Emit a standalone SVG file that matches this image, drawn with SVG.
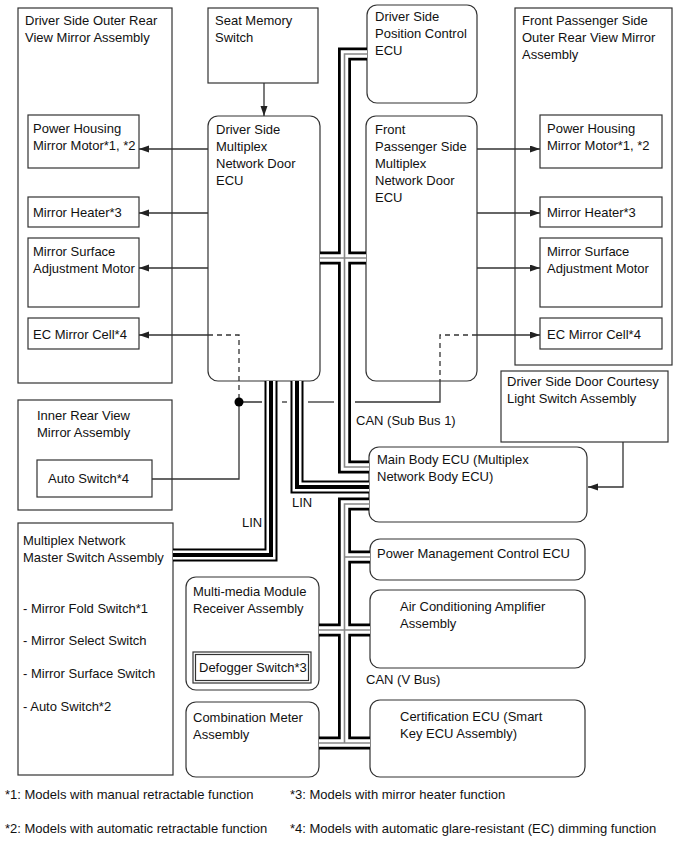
<svg xmlns="http://www.w3.org/2000/svg" width="689" height="853" viewBox="0 0 689 853">
<defs>
<marker id="ah" markerUnits="userSpaceOnUse" markerWidth="10" markerHeight="8" refX="10" refY="3.5" orient="auto">
<path d="M0,0 L10,3.5 L0,7 z" fill="#222"/>
</marker>
<style>
text{font-family:"Liberation Sans",Arial,sans-serif;font-size:13px;fill:#111}
.box{fill:#fff;stroke:#333;stroke-width:1.2}
.frame{fill:none;stroke:#333;stroke-width:1.2}
.ln{fill:none;stroke:#333;stroke-width:1.3}
.arr{fill:none;stroke:#333;stroke-width:1.3;marker-end:url(#ah)}
.dash{fill:none;stroke:#333;stroke-width:1.3;stroke-dasharray:5,4}
.bo{fill:none;stroke:#000;stroke-width:13;stroke-linejoin:miter}
.bw{fill:none;stroke:#fff;stroke-width:7.5;stroke-linejoin:miter}
.bg{fill:none;stroke:#888;stroke-width:1.6;stroke-linejoin:miter}
.lw{fill:none;stroke:#fff;stroke-width:9;stroke-linejoin:miter}
.lc{fill:none;stroke:#000;stroke-width:4;stroke-linejoin:miter}
</style>
</defs>
<rect width="689" height="853" fill="#fff"/>

<g id="driver-outer-mirror">
<rect class="frame" x="18" y="8" width="154" height="375"/>
<text x="25" y="25">Driver Side Outer Rear</text>
<text x="25" y="42">View Mirror Assembly</text>
</g>
<g id="l-power-housing">
<rect class="box" x="28" y="115" width="111" height="53"/>
<text x="33" y="133">Power Housing</text>
<text x="33" y="150">Mirror Motor*1, *2</text>
</g>
<g id="l-mirror-heater">
<rect class="box" x="28" y="197" width="111" height="30"/>
<text x="33" y="217">Mirror Heater*3</text>
</g>
<g id="l-mirror-surface">
<rect class="box" x="28" y="238" width="111" height="69"/>
<text x="33" y="256">Mirror Surface</text>
<text x="33" y="273">Adjustment Motor</text>
</g>
<g id="l-ec-cell">
<rect class="box" x="28" y="318" width="111" height="31"/>
<text x="33" y="339">EC Mirror Cell*4</text>
</g>
<g id="seat-memory">
<rect class="box" x="208" y="8" width="110" height="75"/>
<text x="215" y="25">Seat Memory</text>
<text x="215" y="42">Switch</text>
</g>
<g id="driver-door-ecu">
<rect class="box" x="208" y="116" width="112" height="265" rx="10"/>
<text x="216" y="134">Driver Side</text>
<text x="216" y="151">Multiplex</text>
<text x="216" y="168">Network Door</text>
<text x="216" y="185">ECU</text>
</g>
<g id="position-ecu">
<rect class="box" x="367" y="5" width="110" height="98" rx="10"/>
<text x="375" y="21">Driver Side</text>
<text x="375" y="38">Position Control</text>
<text x="375" y="55">ECU</text>
</g>
<g id="passenger-door-ecu">
<rect class="box" x="366" y="116" width="111" height="265" rx="10"/>
<text x="375" y="134">Front</text>
<text x="375" y="151">Passenger Side</text>
<text x="375" y="168">Multiplex</text>
<text x="375" y="185">Network Door</text>
<text x="375" y="202">ECU</text>
</g>
<g id="passenger-outer-mirror">
<rect class="frame" x="515" y="8" width="157" height="357"/>
<text x="522" y="25">Front Passenger Side</text>
<text x="522" y="42">Outer Rear View Mirror</text>
<text x="522" y="59">Assembly</text>
</g>
<g id="r-power-housing">
<rect class="box" x="540" y="115" width="122" height="53"/>
<text x="547" y="133">Power Housing</text>
<text x="547" y="150">Mirror Motor*1, *2</text>
</g>
<g id="r-mirror-heater">
<rect class="box" x="540" y="197" width="122" height="30"/>
<text x="547" y="217">Mirror Heater*3</text>
</g>
<g id="r-mirror-surface">
<rect class="box" x="540" y="238" width="122" height="69"/>
<text x="547" y="256">Mirror Surface</text>
<text x="547" y="273">Adjustment Motor</text>
</g>
<g id="r-ec-cell">
<rect class="box" x="540" y="318" width="122" height="31"/>
<text x="547" y="339">EC Mirror Cell*4</text>
</g>
<g id="courtesy-switch">
<rect class="box" x="501" y="371" width="167" height="71"/>
<text x="507" y="386">Driver Side Door Courtesy</text>
<text x="507" y="403">Light Switch Assembly</text>
</g>
<g id="inner-mirror">
<rect class="frame" x="18" y="400" width="154" height="110"/>
<text x="37" y="420">Inner Rear View</text>
<text x="37" y="437">Mirror Assembly</text>
</g>
<g id="auto-switch">
<rect class="box" x="37" y="460" width="115" height="37"/>
<text x="48" y="483">Auto Switch*4</text>
</g>
<g id="main-body-ecu">
<rect class="box" x="369" y="447" width="218" height="75" rx="10"/>
<text x="377" y="464">Main Body ECU (Multiplex</text>
<text x="377" y="481">Network Body ECU)</text>
</g>
<g id="master-switch">
<rect class="box" x="18" y="523" width="155" height="252"/>
<text x="23" y="545">Multiplex Network</text>
<text x="23" y="562">Master Switch Assembly</text>
<text x="23" y="613">- Mirror Fold Switch*1</text>
<text x="23" y="645">- Mirror Select Switch</text>
<text x="23" y="678">- Mirror Surface Switch</text>
<text x="23" y="711">- Auto Switch*2</text>
</g>
<g id="power-mgmt-ecu">
<rect class="box" x="370" y="539" width="215" height="41" rx="10"/>
<text x="377" y="558">Power Management Control ECU</text>
</g>
<g id="multimedia">
<rect class="box" x="186" y="577" width="133" height="113" rx="10"/>
<text x="193" y="596">Multi-media Module</text>
<text x="193" y="613">Receiver Assembly</text>
</g>
<g id="defogger">
<rect class="box" x="193" y="652" width="118" height="31"/>
<rect class="box" x="195.5" y="654.5" width="113" height="26"/>
<text x="199" y="672">Defogger Switch*3</text>
</g>
<g id="air-con">
<rect class="box" x="370" y="590" width="215" height="78" rx="10"/>
<text x="400" y="611">Air Conditioning Amplifier</text>
<text x="400" y="628">Assembly</text>
</g>
<g id="combination-meter">
<rect class="box" x="186" y="702" width="133" height="75" rx="10"/>
<text x="193" y="722">Combination Meter</text>
<text x="193" y="739">Assembly</text>
</g>
<g id="certification-ecu">
<rect class="box" x="370" y="700" width="215" height="77" rx="10"/>
<text x="400" y="721">Certification ECU (Smart</text>
<text x="400" y="738">Key ECU Assembly)</text>
</g>
<g id="footnotes">
<text x="5" y="799">*1: Models with manual retractable function</text>
<text x="290" y="799">*3: Models with mirror heater function</text>
<text x="5" y="833">*2: Models with automatic retractable function</text>
<text x="290" y="833">*4: Models with automatic glare-resistant (EC) dimming function</text>
</g>

<g id="connectors">
<path class="arr" d="M264,83 V116"/>
<path class="arr" d="M208,149 H139"/>
<path class="arr" d="M208,213 H139"/>
<path class="arr" d="M208,268 H139"/>
<path class="arr" d="M208,335 H139"/>
<path class="arr" d="M477,149 H540"/>
<path class="arr" d="M477,213 H540"/>
<path class="arr" d="M477,268 H540"/>
<path class="arr" d="M477,335 H540"/>
<path class="arr" d="M623,442 V487 H588"/>
<path class="dash" d="M208,335 H239 V402"/>
<path class="dash" d="M477,335 H440 V381"/>
<path class="ln" d="M152,479 H239 V402 H262"/>
<path class="ln" d="M282,402 H287"/>
<path class="ln" d="M308,402 H334"/>
<path class="ln" d="M355,402 H440 V381"/>
<circle cx="239" cy="402" r="4.5" fill="#000"/>
<path class="bo" d="M367,54 H344.5 V467 H369"/>
<path class="bo" d="M320,258 H366"/>
<path class="bo" d="M369,504 H344.5 V743"/>
<path class="bo" d="M319,743 H370"/>
<path class="bo" d="M344.5,557 H370"/>
<path class="bo" d="M319,630 H370"/>
<path class="bo" d="M271,381 V555 H173"/>
<path class="bo" d="M297,381 V487 H369"/>
<path class="bw" d="M367,54 H344.5 V467 H369"/>
<path class="bw" d="M320,258 H366"/>
<path class="bw" d="M369,504 H344.5 V743"/>
<path class="bw" d="M319,743 H370"/>
<path class="bw" d="M344.5,557 H370"/>
<path class="bw" d="M319,630 H370"/>
<path class="lw" d="M271,381 V555 H173"/>
<path class="lw" d="M297,381 V487 H369"/>
<path class="bg" d="M367,54 H344.5 V467 H369"/>
<path class="bg" d="M320,258 H366"/>
<path class="bg" d="M369,504 H344.5 V743"/>
<path class="bg" d="M319,743 H370"/>
<path class="bg" d="M344.5,557 H370"/>
<path class="bg" d="M319,630 H370"/>
<path class="lc" d="M271,381 V555 H173"/>
<path class="lc" d="M297,381 V487 H369"/>
<text x="356" y="425">CAN (Sub Bus 1)</text>
<text x="366" y="684">CAN (V Bus)</text>
<text x="292" y="507">LIN</text>
<text x="242" y="527">LIN</text>
</g>
</svg>
